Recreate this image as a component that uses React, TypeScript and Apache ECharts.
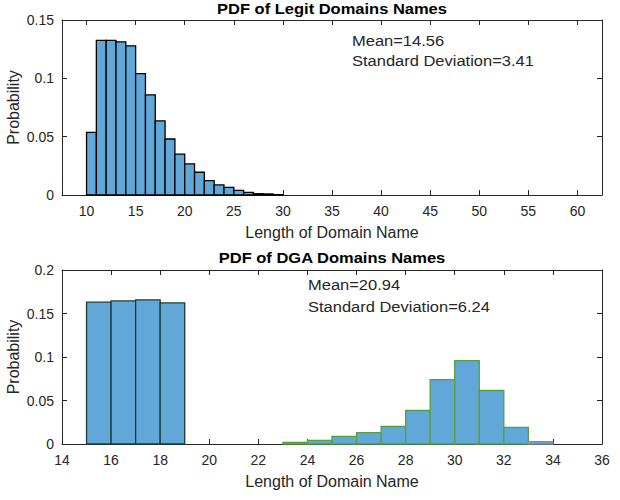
import React, { useEffect, useRef } from "react";
import * as echarts from "echarts";

// Legit domain names histogram (bin start, probability), bin width 1
const legitBins = [10, 11, 12, 13, 14, 15, 16, 17, 18, 19, 20, 21, 22, 23, 24, 25, 26, 27, 28, 29];
const legitProb = [0.0537, 0.1325, 0.1325, 0.1313, 0.1279, 0.104, 0.0859, 0.0635, 0.048, 0.0351, 0.0267, 0.0195, 0.0124, 0.0086, 0.0066, 0.004, 0.0023, 0.0011, 0.0009, 0.0003];
const legitXTicks = [10, 15, 20, 25, 30, 35, 40, 45, 50, 55, 60];

// DGA domain names histogram
const dgaBins = [15, 16, 17, 18, 19, 20, 21, 22, 23, 24, 25, 26, 27, 28, 29, 30, 31, 32, 33];
const dgaProb = [0.163, 0.1645, 0.1656, 0.1622, 0, 0, 0, 0, 0.0019, 0.0042, 0.0088, 0.013, 0.0202, 0.0385, 0.074, 0.0958, 0.0615, 0.0191, 0.0027];

const binWidth = 1;

const legitTitle = "PDF of Legit Domains Names";
const dgaTitle = "PDF of DGA Domains Names";
const legitStats = ["Mean=14.56", "Standard Deviation=3.41"];
const dgaStats = ["Mean=20.94", "Standard Deviation=6.24"];
const xName = "Length of Domain Name";
const yName = "Probability";

const FONT = "'Liberation Sans', Arial, Helvetica, sans-serif";
const AX = "#262626";
const FILL = "#61a8d8";

function dgaEdge(bin: number): string {
  if (bin < 20) return "#1d3d36";
  if (bin >= 33) return "#8c8c8c";
  return "#55a03c";
}

function makeRender(edgeFn: (b: number) => string, lw: number) {
  return (params: any, api: any) => {
    const x0 = api.value(0);
    const x1 = api.value(1);
    const y = api.value(2);
    if (!(y > 0)) return null;
    const p0 = api.coord([x0, y]);
    const p1 = api.coord([x1, 0]);
    return {
      type: "rect",
      shape: { x: p0[0], y: p0[1], width: p1[0] - p0[0], height: p1[1] - p0[1] },
      style: { fill: FILL, stroke: edgeFn(x0), lineWidth: lw },
    };
  };
}

export default function App() {
  const ref = useRef<HTMLDivElement>(null);

  useEffect(() => {
    document.body.style.margin = "0";
    if (!ref.current) return;
    const chart = echarts.init(ref.current, null, { renderer: "svg" });

    const lineStyle = { color: AX, width: 1 };
    const labelStyle = { color: AX, fontSize: 14, fontFamily: FONT };
    const nameStyle = { color: AX, fontSize: 16, fontFamily: FONT };

    const baseX = (grid: number, pos: "bottom" | "top", extra: any) => ({
      type: "value",
      gridIndex: grid,
      position: pos,
      axisLine: { show: true, onZero: false, lineStyle },
      axisTick: { show: true, inside: true, length: 5, lineStyle },
      splitLine: { show: false },
      axisLabel: pos === "bottom" ? { ...labelStyle, margin: 9 } : { show: false },
      ...extra,
    });
    const legitXExtra = { min: 7.5, max: 62.5 };
    const legitTick = { show: true, inside: true, length: 5, lineStyle, customValues: legitXTicks };
    const dgaXExtra = { min: 14, max: 36, interval: 2 };

    const baseY = (grid: number, pos: "left" | "right", extra: any) => ({
      type: "value",
      gridIndex: grid,
      position: pos,
      axisLine: { show: true, onZero: false, lineStyle },
      axisTick: { show: true, inside: true, length: 5, lineStyle },
      splitLine: { show: false },
      axisLabel: pos === "left" ? { ...labelStyle, margin: 8 } : { show: false },
      ...extra,
    });

    const textEl = (text: string, x: number, y: number, size: number, bold: boolean, align: string) => ({
      type: "text",
      x,
      y,
      scaleX: 1.1,
      silent: true,
      style: {
        text,
        fill: bold ? "#000" : AX,
        fontSize: size,
        fontWeight: bold ? "bold" : "normal",
        fontFamily: FONT,
        textAlign: align,
        textVerticalAlign: "middle",
      },
    });

    chart.setOption({
      animation: false,
      backgroundColor: "#ffffff",
      grid: [
        { left: 62, top: 20, width: 540, height: 175, containLabel: false, outerBoundsMode: "none" },
        { left: 62, top: 270, width: 540, height: 174, containLabel: false, outerBoundsMode: "none" },
      ],
      xAxis: [
        {
          ...baseX(0, "bottom", legitXExtra),
          axisTick: legitTick,
          axisLabel: { ...labelStyle, margin: 9, customValues: legitXTicks },
          name: xName,
          nameLocation: "middle",
          nameGap: 29,
          nameTextStyle: nameStyle,
        },
        { ...baseX(0, "top", legitXExtra), axisTick: legitTick },
        {
          ...baseX(1, "bottom", dgaXExtra),
          name: xName,
          nameLocation: "middle",
          nameGap: 29,
          nameTextStyle: nameStyle,
        },
        baseX(1, "top", dgaXExtra),
      ],
      yAxis: [
        {
          ...baseY(0, "left", { min: 0, max: 0.15, interval: 0.05 }),
          name: yName,
          nameLocation: "middle",
          nameGap: 41,
          nameMoveOverlap: false,
          nameTextStyle: nameStyle,
        },
        baseY(0, "right", { min: 0, max: 0.15, interval: 0.05 }),
        {
          ...baseY(1, "left", { min: 0, max: 0.2, interval: 0.05 }),
          name: yName,
          nameLocation: "middle",
          nameGap: 41,
          nameMoveOverlap: false,
          nameTextStyle: nameStyle,
        },
        baseY(1, "right", { min: 0, max: 0.2, interval: 0.05 }),
      ],
      series: [
        {
          type: "custom",
          xAxisIndex: 0,
          yAxisIndex: 0,
          renderItem: makeRender(() => "#000000", 1.3),
          encode: { x: [0, 1], y: 2 },
          data: legitBins.map((b, i) => [b, b + binWidth, legitProb[i]]),
        },
        {
          type: "custom",
          xAxisIndex: 2,
          yAxisIndex: 2,
          renderItem: makeRender(dgaEdge, 1.3),
          encode: { x: [0, 1], y: 2 },
          data: dgaBins.map((b, i) => [b, b + binWidth, dgaProb[i]]),
        },
      ],
      graphic: [
        textEl(legitTitle, 332, 9, 15, true, "center"),
        textEl(dgaTitle, 332, 258, 15, true, "center"),
        textEl(legitStats[0], 352, 41, 15, false, "left"),
        textEl(legitStats[1], 352, 61, 15, false, "left"),
        textEl(dgaStats[0], 308, 285, 15, false, "left"),
        textEl(dgaStats[1], 308, 307, 15, false, "left"),
      ],
    });

    return () => chart.dispose();
  }, []);

  return <div ref={ref} style={{ width: 620, height: 500 }} />;
}
